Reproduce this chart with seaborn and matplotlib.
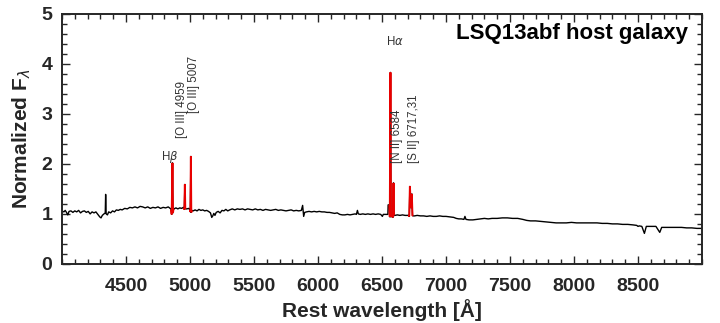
import matplotlib
matplotlib.use("Agg")
import matplotlib.pyplot as plt
import seaborn as sns
import pandas as pd
from matplotlib.ticker import MultipleLocator, FixedLocator

# ---------------- data ----------------
cont_wave = [4000, 4015, 4025, 4035, 4045, 4055, 4070, 4085, 4100, 4115, 4130, 4145,
             4160, 4175, 4190, 4205, 4220, 4235, 4250, 4265, 4280, 4295, 4305, 4315,
             4328, 4338, 4341, 4345, 4355, 4365, 4380, 4395, 4410, 4425, 4440, 4455,
             4470, 4490, 4510, 4530, 4550, 4570, 4590, 4610, 4630, 4650, 4670, 4690,
             4710, 4730, 4750, 4770, 4790, 4810, 4830, 4850,
             4875, 4890, 4905, 4920, 4935, 4948, 4975, 4990,
             5025, 5040, 5055, 5070, 5085, 5100, 5115, 5130, 5145, 5160, 5170, 5178,
             5186, 5195, 5205, 5220, 5235, 5250, 5265, 5280, 5295, 5310, 5330, 5350,
             5370, 5390, 5410, 5430, 5450, 5470, 5490, 5510, 5530, 5550, 5570, 5590,
             5610, 5630, 5650, 5670, 5690, 5710, 5730, 5750, 5770, 5790, 5810, 5830,
             5850, 5870, 5880, 5888, 5896, 5910, 5930, 5950, 5970, 5990, 6010, 6030,
             6050, 6070, 6090, 6110, 6130, 6150, 6170, 6190, 6210, 6230, 6250, 6270,
             6290, 6300, 6308, 6315, 6330, 6350, 6370, 6390, 6410, 6430, 6450, 6470,
             6490, 6503, 6510, 6525, 6540, 6546, 6548, 6556,
             6600, 6620, 6640, 6660, 6680, 6700,
             6755, 6775, 6800, 6825, 6850, 6875, 6900, 6925, 6950, 6975, 7000, 7030,
             7060, 7080, 7100, 7120, 7140, 7148, 7156, 7180, 7210, 7240, 7270, 7300,
             7330, 7360, 7400, 7440, 7480, 7520, 7560, 7600, 7630, 7660, 7700, 7740,
             7780, 7820, 7860, 7900, 7940, 7980, 8020, 8060, 8100, 8140, 8180, 8220,
             8260, 8300, 8340, 8380, 8420, 8460, 8490, 8500, 8510, 8530, 8550, 8565,
             8600, 8640, 8670, 8685, 8720, 8760, 8800, 8840, 8880, 8920, 8960, 9000]
cont_flux = [1.06, 1.04, 1.07, 1.03, 0.98, 1.05, 1.06, 1.03, 1.06, 1.04, 1.07, 1.02,
             1.05, 1.06, 1.03, 1.05, 1.00, 1.04, 1.02, 1.04, 0.99, 0.94, 0.92, 0.97,
             1.00, 1.02, 1.39, 1.00, 0.98, 1.04, 1.02, 1.06, 1.04, 1.08, 1.07, 1.09,
             1.08, 1.11, 1.10, 1.13, 1.12, 1.14, 1.12, 1.15, 1.14, 1.12, 1.14, 1.11,
             1.13, 1.12, 1.14, 1.11, 1.13, 1.12, 1.14, 1.10,
             1.10, 1.12, 1.10, 1.12, 1.11, 1.13, 1.10, 1.11,
             1.06, 1.08, 1.06, 1.09, 1.07, 1.08, 1.06, 1.07, 1.05, 1.02, 0.93, 0.96,
             1.01, 0.97, 1.03, 1.05, 1.02, 1.07, 1.06, 1.09, 1.06, 1.08, 1.10, 1.08,
             1.10, 1.09, 1.10, 1.08, 1.10, 1.09, 1.08, 1.10, 1.08, 1.09, 1.07, 1.09,
             1.08, 1.07, 1.08, 1.09, 1.07, 1.08, 1.07, 1.06, 1.07, 1.08, 1.06, 1.07,
             1.06, 1.07, 1.17, 0.95, 1.03, 1.04, 1.05, 1.04, 1.05, 1.04, 1.05, 1.04,
             1.04, 1.03, 1.03, 1.02, 1.01, 1.02, 0.99, 0.98, 0.98, 0.99, 0.98, 0.99,
             1.00, 0.99, 1.07, 1.00, 0.99, 1.00, 0.99, 1.00, 0.99, 1.00, 0.99, 1.00,
             0.99, 0.95, 0.99, 0.99, 0.99, 0.99, 1.18, 1.18,
             0.97, 0.98, 0.97, 0.98, 0.97, 0.97,
             0.96, 0.97, 0.96, 0.96, 0.95, 0.96, 0.95, 0.95, 0.96, 0.95, 0.95, 0.94,
             0.93, 0.91, 0.90, 0.90, 0.89, 0.95, 0.89, 0.88, 0.88, 0.89, 0.90, 0.91,
             0.90, 0.91, 0.91, 0.92, 0.92, 0.91, 0.91, 0.89, 0.87, 0.86, 0.86, 0.85,
             0.84, 0.83, 0.82, 0.82, 0.82, 0.83, 0.82, 0.82, 0.82, 0.82, 0.82, 0.81,
             0.81, 0.80, 0.80, 0.79, 0.79, 0.78, 0.77, 0.75, 0.76, 0.75, 0.61, 0.75,
             0.75, 0.75, 0.63, 0.73, 0.73, 0.73, 0.73, 0.73, 0.72, 0.72, 0.71, 0.71]

# emission-line profiles (drawn in red)
hb_wave = [4853, 4857, 4863, 4867, 4871]
hb_flux = [1.08, 0.99, 2.02, 1.02, 1.10]
o3a_wave = [4952, 4956, 4960, 4963, 4967]
o3a_flux = [1.12, 1.09, 1.59, 1.11, 1.10]
o3b_wave = [5000, 5003, 5007, 5010, 5014]
o3b_flux = [1.08, 1.04, 2.15, 1.03, 1.07]
ha_wave = [6558, 6561, 6566, 6570, 6574]
ha_flux = [1.18, 0.94, 3.83, 0.94, 0.96]
n2_wave = [6582, 6585, 6590, 6594, 6597]
n2_flux = [0.96, 0.93, 1.62, 0.97, 0.97]
s2_wave = [6708, 6713, 6718, 6726, 6733, 6738, 6743]
s2_flux = [0.97, 0.95, 1.55, 1.12, 1.40, 0.97, 0.96]

line_labels = ["H$\\beta$", "[O III] 4959", "[O III] 5007", "H$\\alpha$", "[N II] 6584", "[S II] 6717,31"]
label_x = [4844, 4935, 5028, 6602, 6617, 6752]
label_y = [2.07, 2.52, 3.02, 4.38, 2.02, 2.02]
label_rot = [0, 90, 90, 0, 90, 90]

x_ticks = [4500, 5000, 5500, 6000, 6500, 7000, 7500, 8000, 8500]
y_ticks = [0, 1, 2, 3, 4, 5]
title_text = "LSQ13abf host galaxy"

# ---------------- build table ----------------
lines = [(hb_wave, hb_flux), (o3a_wave, o3a_flux), (o3b_wave, o3b_flux),
         (ha_wave, ha_flux), (n2_wave, n2_flux), (s2_wave, s2_flux)]
all_w = list(cont_wave)
all_f = list(cont_flux)
for w, f in lines:
    all_w += w
    all_f += f
spec = pd.DataFrame({"wave": all_w, "flux": all_f}).sort_values("wave").reset_index(drop=True)

# ---------------- plot ----------------
sns.set_style("ticks")
plt.rcParams["font.family"] = ["Liberation Sans", "DejaVu Sans"]
plt.rcParams["mathtext.fontset"] = "dejavusans"

fig = plt.figure(figsize=(7.2, 3.23), dpi=100)
ax = fig.add_axes([0.0861, 0.183, 0.8889, 0.774])

sns.lineplot(data=spec, x="wave", y="flux", color="black", lw=1.0,
             estimator=None, sort=False, ax=ax)
for w, f in lines:
    sns.lineplot(x=w, y=f, color="#e80000", lw=1.4, estimator=None, sort=False, ax=ax,
                 solid_capstyle="butt", solid_joinstyle="miter")

ax.set_xlim(4000, 9000)
ax.set_ylim(0, 5)
ax.xaxis.set_major_locator(FixedLocator(x_ticks))
ax.xaxis.set_minor_locator(MultipleLocator(100))
ax.yaxis.set_major_locator(FixedLocator(y_ticks))
ax.yaxis.set_minor_locator(MultipleLocator(0.2))

ax.tick_params(which="both", direction="in", top=True, right=True,
               color="#262626", width=1.0)
ax.tick_params(which="major", length=6, labelsize=14, labelcolor="#262626")
ax.tick_params(axis="x", which="major", pad=10)
ax.tick_params(axis="y", which="major", pad=7)
ax.tick_params(which="minor", length=3.5)
for lab in ax.get_xticklabels() + ax.get_yticklabels():
    lab.set_fontweight("bold")
for sp in ax.spines.values():
    sp.set_linewidth(1.4)
    sp.set_color("#262626")
    sp.set_visible(True)

ax.set_xlabel("Rest wavelength [Å]", fontsize=15, fontweight="bold", color="#262626", labelpad=3)
ax.set_ylabel("Normalized F$_{\\lambda}$", fontsize=15, fontweight="bold", color="#262626", labelpad=6)

for t, x, y, r in zip(line_labels, label_x, label_y, label_rot):
    ax.text(x, y, t, rotation=r, fontsize=8.3, color="#333333",
            ha="center", va="baseline" if r == 0 else "bottom")

ax.text(0.978, 0.965, title_text, transform=ax.transAxes, ha="right", va="top",
        fontsize=16, fontweight="bold", color="black")

fig.savefig("out.png", dpi=100)
